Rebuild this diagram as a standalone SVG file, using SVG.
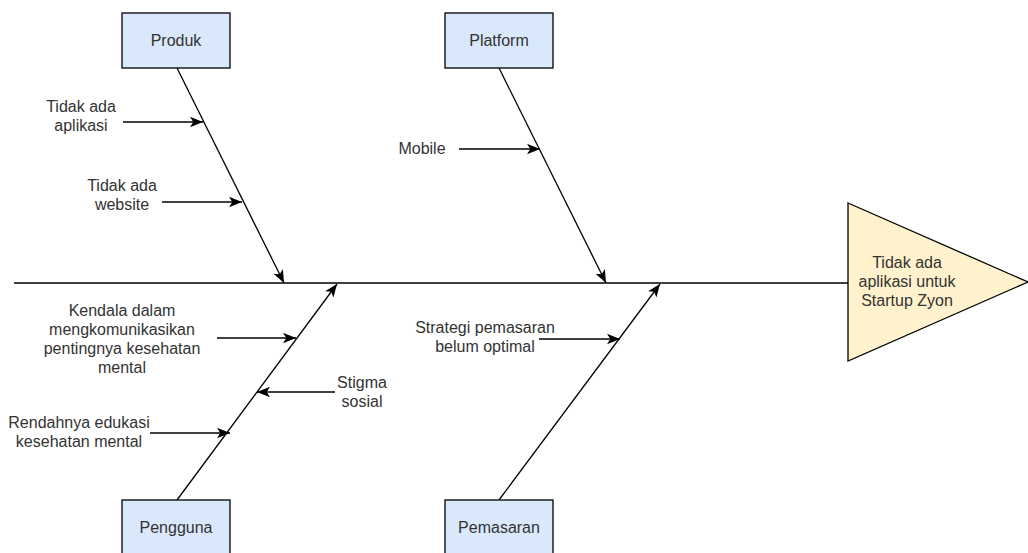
<svg xmlns="http://www.w3.org/2000/svg" width="1028" height="553" viewBox="0 0 1028 553">
<defs>
<marker id="arr" viewBox="0 0 10 10" refX="10" refY="5" markerWidth="13" markerHeight="13" markerUnits="userSpaceOnUse" orient="auto">
<path d="M0,1 L10,5 L0,9 L2.5,5 Z" fill="#000"/>
</marker>
<style>
.box{fill:#dae8fc;stroke:#000;stroke-width:1.3}
.tri{fill:#fff2cc;stroke:#000;stroke-width:1.3}
.ln{stroke:#000;stroke-width:1.3;fill:none}
.ar{stroke:#000;stroke-width:1.3;fill:none;marker-end:url(#arr)}
text{font-family:"Liberation Sans",Arial,sans-serif;font-size:16px;fill:#333;text-anchor:middle;dominant-baseline:central}
</style>
</defs>
<rect width="1028" height="553" fill="#fff"/>
<g id="connectors">
<line class="ln" x1="14" y1="283" x2="848" y2="283"/>
<line class="ar" x1="177" y1="68" x2="284" y2="283"/>
<line class="ar" x1="499" y1="68" x2="606" y2="283"/>
<line class="ar" x1="177" y1="500" x2="337" y2="284"/>
<line class="ar" x1="499" y1="500" x2="660" y2="284"/>
<line class="ar" x1="123" y1="122" x2="203" y2="122"/>
<line class="ar" x1="162" y1="202" x2="242" y2="202"/>
<line class="ar" x1="459" y1="149" x2="540" y2="149"/>
<line class="ar" x1="217" y1="338" x2="296" y2="338"/>
<line class="ar" x1="335" y1="392" x2="257" y2="392"/>
<line class="ar" x1="150" y1="433" x2="230" y2="433"/>
<line class="ar" x1="539" y1="339" x2="620" y2="339"/>
</g>
<g id="produk"><rect class="box" x="122" y="13" width="108" height="55"/><text x="176" y="40">Produk</text></g>
<g id="platform"><rect class="box" x="445" y="13" width="108" height="55"/><text x="499" y="40">Platform</text></g>
<g id="pengguna"><rect class="box" x="122" y="500" width="108" height="55"/><text x="176" y="527">Pengguna</text></g>
<g id="pemasaran"><rect class="box" x="445" y="500" width="108" height="55"/><text x="499" y="527">Pemasaran</text></g>
<g id="head"><polygon class="tri" points="848,203 1028,282 848,361"/>
<text x="907" y="262">Tidak ada</text><text x="907" y="281">aplikasi untuk</text><text x="907" y="300">Startup Zyon</text></g>
<g id="c-aplikasi"><text x="81" y="106">Tidak ada</text><text x="81" y="125">aplikasi</text></g>
<g id="c-website"><text x="122" y="185">Tidak ada</text><text x="122" y="204">website</text></g>
<g id="c-mobile"><text x="422" y="148">Mobile</text></g>
<g id="c-kendala"><text x="122" y="310">Kendala dalam</text><text x="122" y="329">mengkomunikasikan</text><text x="122" y="348">pentingnya kesehatan</text><text x="122" y="367">mental</text></g>
<g id="c-stigma"><text x="362" y="382">Stigma</text><text x="362" y="401">sosial</text></g>
<g id="c-rendah"><text x="79" y="422">Rendahnya edukasi</text><text x="79" y="441">kesehatan mental</text></g>
<g id="c-strategi"><text x="485" y="327">Strategi pemasaran</text><text x="485" y="346">belum optimal</text></g>
</svg>
